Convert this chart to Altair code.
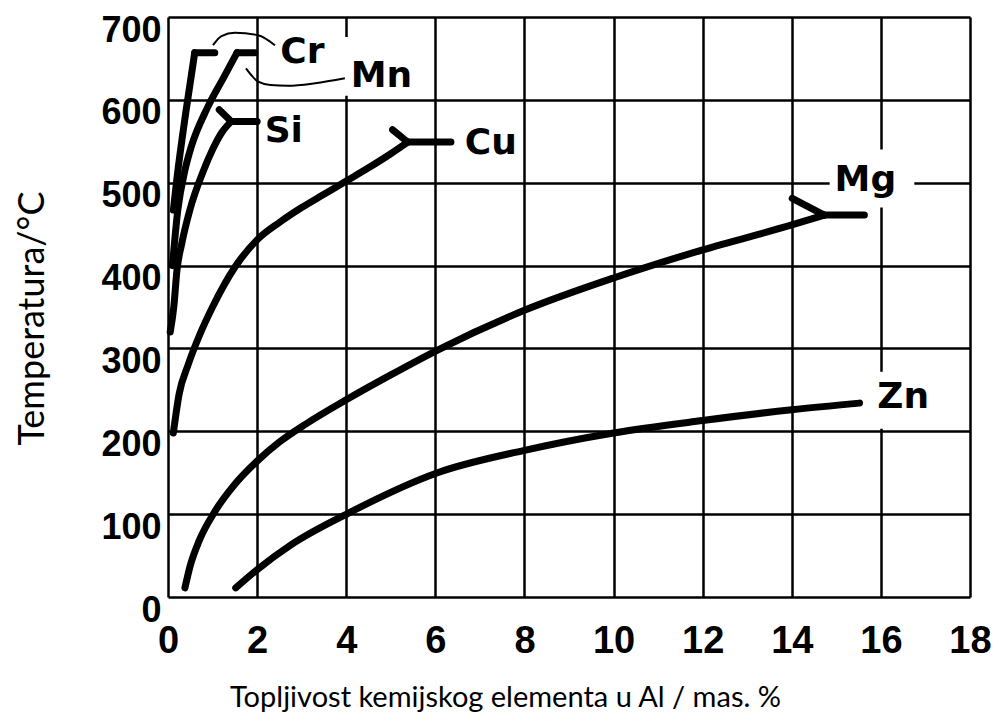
import altair as alt
import pandas as pd

# ---- data (x: mas. %, y: °C) ----
cr_x = [0.12, 0.20, 0.40, 0.60]
cr_y = [467, 505, 585, 657]
cr_flat_x = [0.60, 1.05]
cr_flat_y = [657, 657]

mn_x = [0.10, 0.22, 0.38, 0.52, 0.88, 1.26, 1.55]
mn_y = [400, 467, 515, 543, 590, 628, 657]
mn_flat_x = [1.55, 1.95]
mn_flat_y = [657, 657]

si_x = [0.05, 0.13, 0.20, 0.31, 0.49, 0.80, 1.00, 1.20, 1.42]
si_y = [320, 350, 394, 427, 467, 515, 540, 560, 574]
si_flat_x = [1.42, 2.00]
si_flat_y = [574, 574]
si_branch_x = [1.15, 1.42]
si_branch_y = [588, 574]

cu_x = [0.12, 0.25, 0.45, 0.70, 1.00, 1.50, 2.00, 2.50, 3.00, 3.50, 4.00, 4.50, 5.00, 5.38]
cu_y = [198, 245, 280, 315, 350, 398, 431, 452, 470, 486, 502, 518, 535, 549]
cu_flat_x = [5.38, 6.35]
cu_flat_y = [549, 549]
cu_branch_x = [5.04, 5.38]
cu_branch_y = [564, 549]

mg_x = [0.38, 0.50, 0.70, 1.05, 1.50, 2.00, 2.50, 3.10, 4.00, 5.00, 6.05, 8.00, 10.00, 12.00, 14.00, 14.73]
mg_y = [11, 38, 68, 103, 136, 164, 187, 209, 238, 268, 298, 346, 385, 419, 449, 461]
mg_flat_x = [14.73, 15.63]
mg_flat_y = [461, 461]
mg_branch_x = [14.01, 14.73]
mg_branch_y = [481, 461]

zn_x = [1.52, 2.00, 2.76, 4.04, 6.05, 8.00, 10.00, 12.00, 14.00, 15.52]
zn_y = [11, 33, 63, 101, 150, 177, 198, 213, 226, 234]

cr_lead_x = [1.01, 1.20, 1.50, 2.02, 2.40]
cr_lead_y = [666, 677, 681, 678, 666]
mn_lead_x = [1.75, 1.90, 2.02, 2.30, 2.69, 3.30, 3.97]
mn_lead_y = [638, 628, 622, 618, 617, 620, 626]

label_text = ["Cr", "Mn", "Si", "Cu", "Mg", "Zn"]
label_x = [2.52, 4.10, 2.17, 6.66, 14.96, 15.92]
label_y = [658, 629, 562, 548, 503, 241]

box_x1 = [3.93, 14.85, 15.80]
box_x2 = [5.90, 16.75, 17.40]
box_y1 = [605, 470, 203]
box_y2 = [676, 540, 272]

x_ticks = [0, 2, 4, 6, 8, 10, 12, 14, 16, 18]
y_ticks = [0, 100, 200, 300, 400, 500, 600, 700]

# ---- build tables ----
def seg(name, xs, ys):
    return pd.DataFrame({"s": name, "x": xs, "y": ys, "o": range(len(xs))})

thick = pd.concat([
    seg("Cr", cr_x, cr_y), seg("Cr_f", cr_flat_x, cr_flat_y),
    seg("Mn", mn_x, mn_y), seg("Mn_f", mn_flat_x, mn_flat_y),
    seg("Si", si_x, si_y), seg("Si_f", si_flat_x, si_flat_y), seg("Si_b", si_branch_x, si_branch_y),
    seg("Cu", cu_x, cu_y), seg("Cu_f", cu_flat_x, cu_flat_y), seg("Cu_b", cu_branch_x, cu_branch_y),
    seg("Mg", mg_x, mg_y), seg("Mg_f", mg_flat_x, mg_flat_y), seg("Mg_b", mg_branch_x, mg_branch_y),
    seg("Zn", zn_x, zn_y),
], ignore_index=True)

thin = pd.concat([seg("Crl", cr_lead_x, cr_lead_y), seg("Mnl", mn_lead_x, mn_lead_y)], ignore_index=True)
labels = pd.DataFrame({"t": label_text, "x": label_x, "y": label_y})
boxes = pd.DataFrame({"x": box_x1, "x2": box_x2, "y": box_y1, "y2": box_y2})

tick_font = "Liberation Sans, Arial, sans-serif"
title_font = "Lato, Open Sans, sans-serif"

xscale = alt.Scale(domain=[0, 18], nice=False, zero=False)
yscale = alt.Scale(domain=[0, 700], nice=False, zero=False)

xaxis = alt.Axis(
    values=x_ticks, grid=True, gridColor="black", gridWidth=2.5, gridOpacity=1,
    domain=False, ticks=False, labelFlush=False, labelOverlap=False,
    labelFont=tick_font, labelFontSize=38, labelFontWeight="bold", labelColor="black",
    labelBaseline="top", labelPadding=25,
    title="Topljivost kemijskog elementa u Al / mas. %",
    titleFont=title_font, titleFontSize=29, titleFontWeight="normal", titleColor="black",
    titleX=337, titleY=100, titleAlign="center", titleBaseline="middle",
)
yaxis = alt.Axis(
    values=y_ticks, grid=True, gridColor="black", gridWidth=2.5, gridOpacity=1,
    domain=False, ticks=False, labelFlush=False, labelOverlap=False,
    labelFont=tick_font, labelFontSize=36, labelFontWeight="bold", labelColor="black",
    labelPadding=7, labelOffset=13,
    title="Temperatura/°C",
    titleFont=title_font, titleFontSize=36, titleFontWeight="normal", titleColor="black",
    titleX=-136, titleY=301, titleAngle=270, titleAlign="center", titleBaseline="middle",
)

base_x = alt.X("x:Q", scale=xscale, axis=xaxis)
base_y = alt.Y("y:Q", scale=yscale, axis=yaxis)

box_layer = alt.Chart(boxes).mark_rect(color="white").encode(
    x=alt.X("x:Q", scale=xscale), x2="x2", y=alt.Y("y:Q", scale=yscale), y2="y2"
)

curves = alt.Chart(thick).mark_line(
    color="black", strokeWidth=7, interpolate="monotone", strokeCap="round", strokeJoin="round"
).encode(x=base_x, y=base_y, detail="s:N", order="o:Q")

leaders = alt.Chart(thin).mark_line(
    color="black", strokeWidth=2, interpolate="monotone"
).encode(x=alt.X("x:Q", scale=xscale), y=alt.Y("y:Q", scale=yscale), detail="s:N", order="o:Q")

texts = alt.Chart(labels).mark_text(
    font="DejaVu Sans", fontWeight="bold", fontSize=36, color="black",
    align="left", baseline="middle"
).encode(x=alt.X("x:Q", scale=xscale), y=alt.Y("y:Q", scale=yscale), text="t:N")

chart = alt.layer(curves, box_layer, leaders, texts).properties(
    width=802, height=580,
    autosize=alt.AutoSizeParams(type="none"),
    padding={"left": 160, "top": 9, "right": 21, "bottom": 130},
).configure_view(stroke="black", strokeWidth=4.5).configure(background="white")

chart.save("out.html", embed_options={"renderer": "svg", "actions": False})
